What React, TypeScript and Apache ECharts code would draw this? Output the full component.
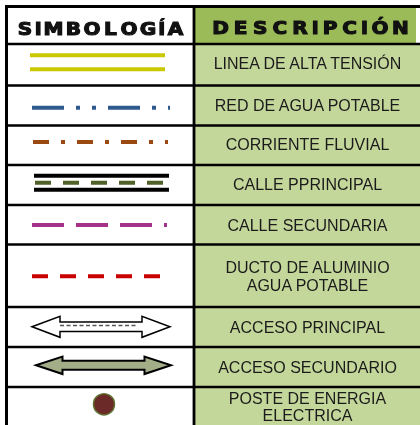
import React, { useEffect, useRef } from "react";
import * as echarts from "echarts";

// ---- content ----
const headers = ["SIMBOLOGÍA", "DESCRIPCIÓN"];
const descriptions = [
  "LINEA DE ALTA TENSIÓN",
  "RED DE AGUA POTABLE",
  "CORRIENTE FLUVIAL",
  "CALLE PPRINCIPAL",
  "CALLE SECUNDARIA",
  "DUCTO DE ALUMINIO\nAGUA POTABLE",
  "ACCESO PRINCIPAL",
  "ACCESO SECUNDARIO",
  "POSTE DE ENERGIA\nELECTRICA",
];
const symbols = [
  "doubleLine",
  "dashDotDot",
  "dashDot",
  "street",
  "longDash",
  "shortDash",
  "hollowArrow",
  "filledArrow",
  "dot",
];

// ---- layout ----
const rowLines = [44, 85.5, 125.5, 165, 205, 244.5, 307, 347, 387, 440];
const textY = [63.5, 105, 144.5, 184.5, 225, 276.5, 327.5, 367, 407];
const COL = 194;
const LEFT = 6.5;
const TOP = 6.5;
const RIGHT = 420;
const TXT = "#1b1b1b";

function headerLetters(word: string, x0: number, gap: number, cy: number) {
  const widthOf = (c: string) =>
    c === "I" || c === "Í" ? 4.5 : c === "M" ? 18 : c === "O" || c === "Ó" || c === "G" || c === "A" || c === "N" || c === "D" || c === "R" ? 15 : 14;
  const out: any[] = [];
  let x = x0;
  for (const c of word) {
    const w = widthOf(c);
    out.push({
      type: "text",
      x: x + w / 2,
      y: cy,
      scaleX: c === "I" || c === "Í" ? 1.1 : 1.18,
      style: {
        text: c,
        textAlign: "center",
        textVerticalAlign: "middle",
        fontFamily: "DejaVu Sans",
        fontWeight: "bold",
        fontSize: 17,
        fill: "#111",
        stroke: "#111",
        lineWidth: 1.1,
      },
    });
    x += w + gap;
  }
  return out;
}

function dashLine(x1: number, x2: number, y: number, color: string, dash: number[] | null, w = 4) {
  return {
    type: "line",
    shape: { x1, y1: y, x2, y2: y },
    style: { stroke: color, lineWidth: w, lineDash: dash || undefined, lineCap: "butt" },
  };
}

function arrowPoints(x1: number, x2: number, cy: number, headLen: number, headH: number, shaftH: number) {
  return [
    [x1, cy],
    [x1 + headLen, cy - headH],
    [x1 + headLen, cy - shaftH],
    [x2 - headLen, cy - shaftH],
    [x2 - headLen, cy - headH],
    [x2, cy],
    [x2 - headLen, cy + headH],
    [x2 - headLen, cy + shaftH],
    [x1 + headLen, cy + shaftH],
    [x1 + headLen, cy + headH],
  ];
}

function symbolGraphic(kind: string): any[] {
  switch (kind) {
    case "doubleLine":
      return [dashLine(30, 165, 55.3, "#CBC800", null), dashLine(30, 165, 69.3, "#CBC800", null)];
    case "dashDotDot":
      return [dashLine(32, 170, 107.7, "#2F5A8E", [32, 12, 4, 12, 4, 12])];
    case "dashDot":
      return [dashLine(33, 168, 142, "#9A4A10", [16, 12, 4, 12])];
    case "street":
      return [
        dashLine(34, 169, 175.7, "#000", null),
        dashLine(35, 163, 182.7, "#4F6228", [16, 12]),
        dashLine(34, 169, 189.7, "#000", null),
      ];
    case "longDash":
      return [dashLine(32, 167, 225, "#A5318A", [32, 12])];
    case "shortDash":
      return [dashLine(32, 160, 276.3, "#C80000", [16, 12])];
    case "hollowArrow":
      return [
        {
          type: "polygon",
          shape: { points: arrowPoints(32, 170, 326.8, 28, 10.5, 4.8) },
          style: { fill: "#fff", stroke: "#000", lineWidth: 1.5 },
        },
        {
          type: "line",
          shape: { x1: 60, y1: 325.6, x2: 137, y2: 325.6 },
          style: { stroke: "#555", lineWidth: 1.5, lineDash: [4, 2.5] },
        },
      ];
    case "filledArrow":
      return [
        {
          type: "polygon",
          shape: { points: arrowPoints(36, 171, 365.3, 26.5, 8.7, 4.5) },
          style: { fill: "#A3AE89", stroke: "#000", lineWidth: 2 },
        },
      ];
    case "dot":
      return [
        {
          type: "circle",
          shape: { cx: 104, cy: 404.3, r: 10.5 },
          style: { fill: "#6B2A28", stroke: "#5E6F30", lineWidth: 1.5 },
        },
      ];
  }
  return [];
}

export default function App() {
  const ref = useRef<HTMLDivElement>(null);
  useEffect(() => {
    if (!ref.current) return;
    const chart = echarts.init(ref.current, null, { renderer: "svg" });
    const els: any[] = [];
    els.push({ type: "rect", shape: { x: 0, y: 0, width: 420, height: 425 }, style: { fill: "#fff" } });
    els.push({
      type: "rect",
      shape: { x: COL, y: rowLines[0], width: RIGHT - COL, height: 425 - rowLines[0] },
      style: { fill: "#C4D79B" },
    });
    els.push({
      type: "rect",
      shape: { x: COL, y: TOP, width: 416 - COL, height: rowLines[0] - TOP },
      style: { fill: "#9BBB59" },
    });
    symbols.forEach((s) => els.push(...symbolGraphic(s)));
    els.push({ type: "line", shape: { x1: 5, y1: TOP, x2: RIGHT, y2: TOP }, style: { stroke: "#000", lineWidth: 3 } });
    els.push({ type: "line", shape: { x1: LEFT, y1: 5, x2: LEFT, y2: 425 }, style: { stroke: "#000", lineWidth: 3 } });
    els.push({ type: "line", shape: { x1: COL, y1: 5, x2: COL, y2: 425 }, style: { stroke: "#000", lineWidth: 2.8 } });
    rowLines.slice(0, -1).forEach((y) =>
      els.push({ type: "line", shape: { x1: 5, y1: y, x2: RIGHT, y2: y }, style: { stroke: "#000", lineWidth: 2.6 } })
    );
    els.push(...headerLetters(headers[0], 18, 4, 28.8));
    els.push(...headerLetters(headers[1], 213, 5.6, 28));
    descriptions.forEach((d, i) =>
      els.push({
        type: "text",
        x: 307.5,
        y: textY[i],
        style: {
          text: d,
          textAlign: "center",
          textVerticalAlign: "middle",
          fontFamily: "Liberation Sans, Arial, sans-serif",
          fontSize: 16,
          lineHeight: 17.5,
          fill: TXT,
        },
      })
    );
    chart.setOption({ animation: false, graphic: { elements: els } });
    return () => chart.dispose();
  }, []);
  return <div ref={ref} style={{ position: "fixed", left: 0, top: 0, width: 420, height: 425 }} />;
}
